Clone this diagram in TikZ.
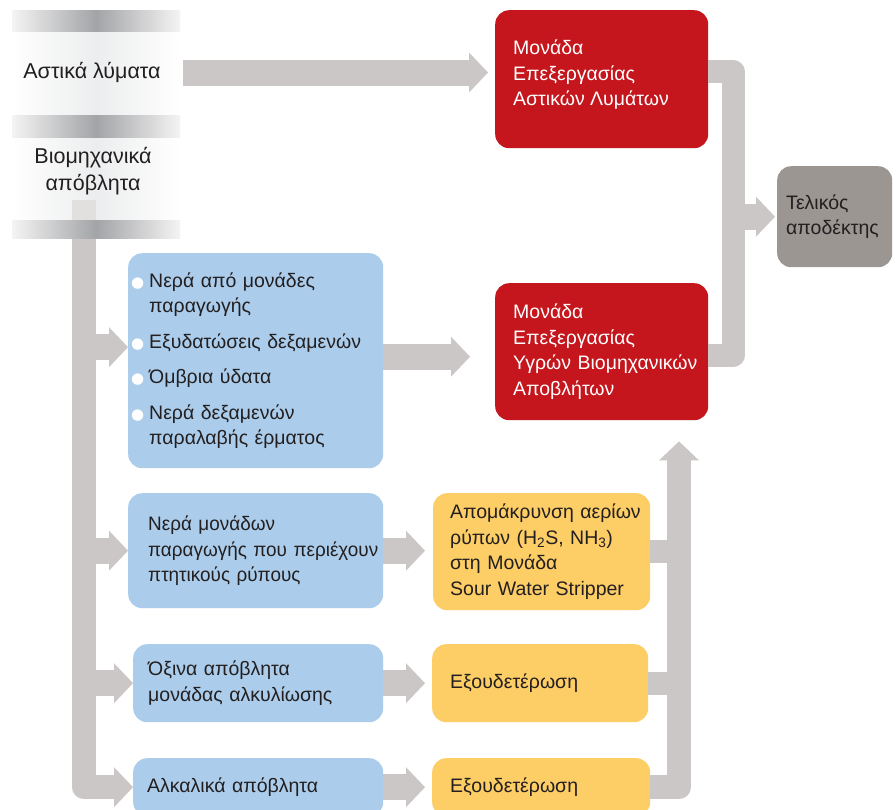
\documentclass[tikz,border=0pt]{standalone}
\usepackage{fontspec}
\setmainfont{Liberation Sans}
\newfontfamily\narrowf[FakeStretch=0.97]{Liberation Sans}
\newfontfamily\dejavu{DejaVu Sans}
\usetikzlibrary{arrows.meta,calc}
\definecolor{cgray}{HTML}{CBC7C6}
\definecolor{cred}{HTML}{C4161C}
\definecolor{cblue}{HTML}{ABCDEB}
\definecolor{cyellow}{HTML}{FDCD66}
\definecolor{cfinal}{HTML}{9B9692}
\definecolor{ctext}{HTML}{231F20}
\definecolor{hdark}{HTML}{A3A4A7}
\definecolor{hlight}{HTML}{F4F4F4}
\definecolor{hpanel}{HTML}{ECEDEE}
\newcommand\bul{\makebox[0pt][r]{\dejavu\fontsize{15}{15}\selectfont\textcolor{white}{●}\hspace{5pt}}}
\newcommand\li[1]{\mbox{#1}}
\begin{document}
\begin{tikzpicture}[x=1pt,y=-1pt,
  font=\fontsize{19.5}{25.5}\selectfont,
  box/.style={anchor=north west, rounded corners=14pt, inner ysep=0pt, align=left, text=ctext},
  bluebox/.style={box, fill=cblue},
  yellowbox/.style={box, fill=cyellow},
  redbox/.style={box, fill=cred, text=white},
  hdr/.style={text=ctext, align=center, inner sep=0pt, font=\fontsize{21.5}{27}\selectfont},
  conn/.style={draw=cgray, line width=26pt, line join=round, -{Triangle[width=40pt,length=19pt,line width=0pt]}},
  spine/.style={draw=cgray, line width=23pt, line join=round},
  spinearrow/.style={draw=cgray, line width=24pt, line join=round, -{Triangle[width=40pt,length=19pt,line width=0pt]}}
]
\useasboundingbox (0,0) rectangle (896,809);
\clip (0,0) rectangle (896,809);
\fill[white] (0,0) rectangle (896,809);

% header column
\shade[left color=hlight, right color=hlight, middle color=hdark] (12,10) rectangle (180,32);
\shade[left color=white, right color=white, middle color=hpanel] (12,32) rectangle (180,115);
\shade[left color=hlight, right color=hlight, middle color=hdark] (12,115) rectangle (180,138);
\shade[left color=white, right color=white, middle color=hpanel] (12,138) rectangle (180,220);
\node[hdr] (ast) at (92,72) {Αστικά λύματα};
\node[hdr] (bio) at (93,171) {Βιομηχανικά\\απόβλητα};

% boxes
\node[redbox, minimum width=213pt, minimum height=138pt, text width=177pt, inner xsep=18pt] (r1) at (495,10) {};
\node[anchor=west, text=white, align=left, inner sep=0pt] (r1t) at ([xshift=18pt,yshift=4.5pt]r1.west) {Μονάδα\\Επεξεργασίας\\Αστικών Λυμάτων};
\node[redbox, minimum width=213pt, minimum height=137pt, text width=177pt, inner xsep=18pt] (r2) at (495,283)
 {\li{Μονάδα}\\\li{Επεξεργασίας}\\\li{Υγρών Βιομηχανικών}\\\li{Αποβλήτων}};
\node[box, fill=cfinal, minimum width=115pt, minimum height=101pt, text width=97pt, inner xsep=9pt] (fin) at (777,166)
 {\li{Τελικός}\\\li{αποδέκτης}};

\node[bluebox, minimum width=255pt, minimum height=215pt, text width=213pt, inner xsep=21pt] (b1) at (128,253)
 {\li{\bul Νερά από μονάδες}\\\li{παραγωγής}\\[10pt]\li{\bul Εξυδατώσεις δεξαμενών}\\[10pt]\li{\bul Όμβρια ύδατα}\\[10pt]\li{\bul Νερά δεξαμενών}\\\li{παραλαβής έρματος}};
\node[bluebox, minimum width=255pt, minimum height=115pt, text width=215pt, inner xsep=20pt] (b2) at (128,493)
 {\narrowf\li{Νερά μονάδων}\\\li{παραγωγής που περιέχουν}\\\li{πτητικούς ρύπους}};
\node[bluebox, minimum width=250pt, minimum height=78pt, text width=220pt, inner xsep=15pt] (b3) at (133,644)
 {\li{Όξινα απόβλητα}\\\li{μονάδας αλκυλίωσης}};
\node[bluebox, minimum width=250pt, minimum height=58pt, text width=222pt, inner xsep=14pt] (b4) at (133,758)
 {\li{Αλκαλικά απόβλητα}};

\node[yellowbox, minimum width=217pt, minimum height=117pt, text width=183pt, inner xsep=17pt] (y1) at (433,493)
 {\li{Απομάκρυνση αερίων}\\\li{ρύπων (H\textsubscript{2}S, NH\textsubscript{3})}\\\li{στη Μονάδα}\\\li{Sour Water Stripper}};
\node[yellowbox, minimum width=216pt, minimum height=78pt, text width=180pt, inner xsep=18pt] (y2) at (432,644)
 {\li{Εξουδετέρωση}};
\node[yellowbox, minimum width=218pt, minimum height=58pt, text width=182pt, inner xsep=18pt] (y3) at (432,758)
 {\li{Εξουδετέρωση}};

% helper coordinates
\coordinate (a0) at (183,72.5);
\coordinate (a1) at ([xshift=-7pt]r1.west);
\coordinate (sp0) at (84,200);
\coordinate (b1in) at ([yshift=13.5pt]b1.west);
\coordinate (b1out) at ([yshift=4pt]b1.east);
\coordinate (r2in) at ([xshift=-25pt]r2.west);
\coordinate (y1in) at ([xshift=-8pt]y1.west);
\coordinate (y2in) at ([xshift=-7pt]y2.west);
\coordinate (y3in) at ([xshift=-7pt]y3.west);
\coordinate (rs) at (679,800);
\coordinate (rstop) at ([yshift=-21pt]r2.south);
\coordinate (rb) at (733,200);
\coordinate (r1out) at ([yshift=7.5pt]r1.east);
\coordinate (r2out) at ([yshift=-3.5pt]r2.east);
\coordinate (finin) at ([xshift=-2pt]fin.west);

% top arrow
\draw[conn] (a0) -- (a0 -| a1);

% left spine
\draw[spinearrow] (sp0) -- (sp0 |- b4.west) -- (b4.west);
\fill[white, opacity=0.45] (72,200) rectangle (96,220);
\shade[left color=hlight, right color=hlight, middle color=hdark] (12,220) rectangle (180,238);
\draw[conn] (sp0 |- b1in) -- (b1in);
\draw[conn] (sp0 |- b2.west) -- (b2.west);
\draw[conn] (sp0 |- b3.west) -- (b3.west);

% blue to next
\draw[conn] (b1out) -- (b1out -| r2in);
\draw[conn] (b2.east) -- (b2.east -| y1in);
\draw[conn] (b3.east) -- (b3.east -| y2in);
\draw[conn] (b4.east) -- (b4.east -| y3in);

% right yellow spine
\draw[spinearrow] (y3.east) -- (y3.east -| rs) -- (rs |- rstop);
\draw[spine] (y1.east) -- (y1.east -| rs);
\draw[spine] (y2.east) -- (y2.east -| rs);

% red bracket
\draw[spine] (r1out) -- (r1out -| rb) -- (rb |- r2out) -- (r2out);
\draw[conn] (rb |- fin.west) -- (finin);
\end{tikzpicture}
\end{document}
